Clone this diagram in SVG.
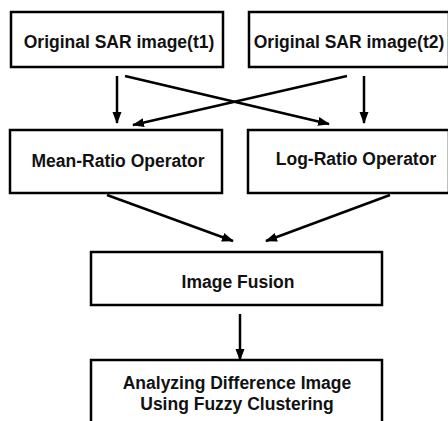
<svg xmlns="http://www.w3.org/2000/svg" width="448" height="421" viewBox="0 0 448 421">
<defs>
<marker id="ah" markerWidth="12" markerHeight="10" refX="11" refY="5" orient="auto" markerUnits="userSpaceOnUse">
<path d="M0,0.5 L12,5 L0,9.5 z" fill="#000"/>
</marker>
<style>
.box{fill:#fff;stroke:#000;stroke-width:2.5}
text{font-family:"Liberation Sans",Arial,sans-serif;font-weight:bold;font-size:17.5px;text-anchor:middle;fill:#111}
line{stroke:#000;stroke-width:2.5;marker-end:url(#ah)}
</style>
</defs>
<rect width="448" height="421" fill="#fff"/>
<g id="t1"><rect class="box" x="11" y="12" width="212" height="55"/><text x="119" y="48">Original SAR image(t1)</text></g>
<g id="t2"><rect class="box" x="249" y="12" width="200" height="55"/><text x="349" y="48">Original SAR image(t2)</text></g>
<g id="mean"><rect class="box" x="10" y="130" width="212" height="63"/><text x="118" y="167">Mean-Ratio Operator</text></g>
<g id="log"><rect class="box" x="248" y="130" width="201" height="63"/><text x="356" y="165">Log-Ratio Operator</text></g>
<g id="fusion"><rect class="box" x="91" y="252" width="291" height="53"/><text x="238" y="288">Image Fusion</text></g>
<g id="analyze"><rect class="box" x="91" y="360" width="291" height="70"/><text x="237" y="389">Analyzing Difference Image</text><text x="237" y="410">Using Fuzzy Clustering</text></g>
<g id="connectors">
<line x1="117" y1="76" x2="117" y2="123"/>
<line x1="364" y1="76" x2="364" y2="123"/>
<line x1="125" y1="76" x2="329" y2="124"/>
<line x1="347" y1="76" x2="133" y2="125"/>
<line x1="107" y1="195" x2="233" y2="241"/>
<line x1="390" y1="195" x2="266" y2="241"/>
<line x1="240" y1="314" x2="240" y2="360"/>
</g>
</svg>
